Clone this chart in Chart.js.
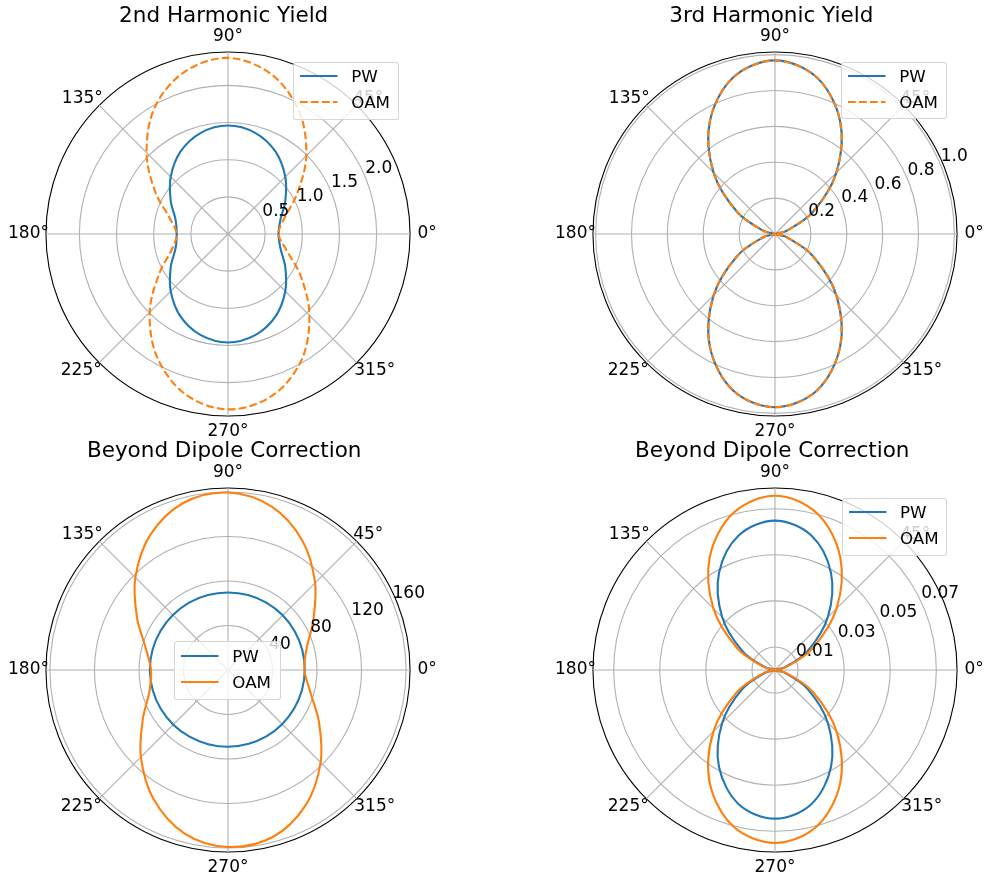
<!DOCTYPE html>
<html>
<head>
<meta charset="utf-8">
<script src="https://cdn.jsdelivr.net/npm/chart.js@4"></script>
<style>
html, body { margin:0; padding:0; background:#fff; }
body { width:986px; height:884px; overflow:hidden; position:relative; font-family:"DejaVu Sans", sans-serif; }
canvas { position:absolute; z-index:1; }
.title { position:absolute; font-size:21.5px; line-height:21.5px; white-space:nowrap; transform:translateX(-50%); color:#000; z-index:3; }
.legend { position:absolute; background:rgba(255,255,255,0.8); border:1px solid rgba(204,204,204,0.8); border-radius:3px; box-sizing:border-box; z-index:4; }
.legend svg { position:absolute; left:6px; }
.legend span { position:absolute; left:57px; font-size:16.7px; line-height:20px; white-space:nowrap; color:#000; }
</style>
</head>
<body>
<script>
// ---------- data ----------
const ANGLES = [0,15,30,45,60,75,90,105,120,135,150,165,180,195,210,225,240,255,270,285,300,315,330,345];
const ANGLE_TICK_LABELS = ['0°','','','45°','','','90°','','','135°','','','180°','','','225°','','','270°','','','315°','',''];
const SERIES_NAMES = ['PW','OAM'];

// 2nd Harmonic Yield
const tlTitle = '2nd Harmonic Yield';
const tlPW  = [0.68,0.73,0.89,1.09,1.28,1.41,1.46,1.41,1.28,1.09,0.89,0.73,0.69,0.73,0.89,1.09,1.28,1.41,1.46,1.41,1.28,1.09,0.89,0.73];
const tlOAM = [0.68,0.78,1.07,1.49,1.91,2.23,2.37,2.26,1.97,1.55,1.13,0.81,0.69,0.78,1.07,1.49,1.91,2.23,2.36,2.26,1.97,1.55,1.13,0.81];
const tlRTicks = [0.5,1.0,1.5,2.0];
const tlRTickLabels = ['0.5','1.0','1.5','2.0'];
const tlRMax = 2.45;

// 3rd Harmonic Yield
const trTitle = '3rd Harmonic Yield';
const trPW  = [0,0.065,0.242,0.484,0.726,0.903,0.968,0.903,0.726,0.484,0.242,0.065,0,0.065,0.242,0.484,0.726,0.903,0.966,0.903,0.726,0.484,0.242,0.065];
const trOAM = [0,0.065,0.242,0.484,0.726,0.903,0.968,0.903,0.726,0.484,0.242,0.065,0,0.065,0.242,0.484,0.726,0.903,0.966,0.903,0.726,0.484,0.242,0.065];
const trRTicks = [0.2,0.4,0.6,0.8,1.0];
const trRTickLabels = ['0.2','0.4','0.6','0.8','1.0'];
const trRMax = 1.015;

// Beyond Dipole Correction (left)
const blTitle = 'Beyond Dipole Correction';
const blPW  = [69.0,69.1,69.3,69.5,69.6,69.7,69.7,69.8,69.9,70.0,70.1,70.2,70.2,70.0,69.8,69.5,69.2,69.0,69.0,68.9,68.9,68.8,68.8,68.9];
const blOAM = [68.7,73.0,88.4,110.7,133.9,151.9,159.5,155.4,140.0,117.7,94.5,76.6,69.2,73.0,88.4,110.7,133.9,151.9,159.0,155.4,140.0,117.7,94.5,76.6];
const blRTicks = [40,80,120,160];
const blRTickLabels = ['40','80','120','160'];
const blRMax = 163.6;

// Beyond Dipole Correction (right)
const brTitle = 'Beyond Dipole Correction';
const brPW  = [0,0.0043,0.0162,0.0324,0.0486,0.0605,0.0648,0.0605,0.0486,0.0324,0.0162,0.0043,0,0.0043,0.0162,0.0324,0.0486,0.0604,0.0645,0.0604,0.0486,0.0324,0.0162,0.0043];
const brOAM = [0,0.0051,0.0189,0.0378,0.0566,0.0704,0.0756,0.0704,0.0566,0.0378,0.0189,0.0051,0,0.0051,0.0189,0.0378,0.0566,0.0702,0.0751,0.0702,0.0566,0.0378,0.0189,0.0051];
const brRTicks = [0.01,0.03,0.05,0.07];
const brRTickLabels = ['0.01','0.03','0.05','0.07'];
const brRMax = 0.079;

// ---------- layout / style ----------
const PANELS = [
  {title: tlTitle, pw: tlPW, oam: tlOAM, ticks: tlRTicks, tickLabels: tlRTickLabels, rmax: tlRMax, dashed: true, rLabelAngle: 22.5,
   cx: 227.7, cy: 234.3, titleX: 223.7, titleBase: 21.7, legend: {x: 293.3, y: 61.7, w: 106, h: 58.3}},
  {title: trTitle, pw: trPW, oam: trOAM, ticks: trRTicks, tickLabels: trRTickLabels, rmax: trRMax, dashed: true, rLabelAngle: 22.5,
   cx: 775.3, cy: 234.3, titleX: 771.3, titleBase: 21.7, legend: {x: 841.3, y: 61.7, w: 105.7, h: 57.6}},
  {title: blTitle, pw: blPW, oam: blOAM, ticks: blRTicks, tickLabels: blRTickLabels, rmax: blRMax, dashed: false, rLabelAngle: 22.5,
   cx: 227.7, cy: 670.3, titleX: 224.2, titleBase: 457.5, legend: {x: 174.3, y: 641.3, w: 106.4, h: 58.4}},
  {title: brTitle, pw: brPW, oam: brOAM, ticks: brRTicks, tickLabels: brRTickLabels, rmax: brRMax, dashed: false, rLabelAngle: 25,
   cx: 775.3, cy: 670.3, titleX: 772.2, titleBase: 457.5, legend: {x: 842, y: 497.5, w: 105, h: 58.5}}
];
const FONT = 'DejaVu Sans';
const PW_COLOR = '#1f77b4', OAM_COLOR = '#ff7f0e';
const DASH = [7.7, 3.3];
const LABEL_PAD = {'0°': 7.5, '45°': -5, '90°': 5.5, '135°': -5, '180°': -3, '225°': -3.5, '270°': 5, '315°': -3.5};

const rTickLabelPlugin = {
  id: 'rTickLabels',
  afterDatasetsDraw(chart, args, opts) {
    const s = chart.scales.r, ctx = chart.ctx;
    const a = opts.angle * Math.PI / 180;
    ctx.save();
    ctx.font = '17px "' + FONT + '"';
    ctx.fillStyle = '#000';
    ctx.textAlign = 'left';
    ctx.textBaseline = 'bottom';
    opts.ticks.forEach((v, i) => {
      const d = s.getDistanceFromCenterForValue(v);
      ctx.fillText(opts.labels[i], s.xCenter + d * Math.cos(a), s.yCenter - d * Math.sin(a));
    });
    ctx.restore();
  }
};

function makePanel(p) {
  const N = ANGLES.length;
  // radar goes clockwise from the start angle; reorder so angles run counter-clockwise from 0°
  const radarOrder = arr => arr.map((_, i) => arr[(N - i) % N]);
  const labels = radarOrder(ANGLE_TICK_LABELS);
  const canvas = document.createElement('canvas');
  canvas.width = 440; canvas.height = 440;
  document.body.appendChild(canvas);
  const chart = new Chart(canvas, {
    type: 'radar',
    data: {
      labels: labels,
      datasets: [
        {label: SERIES_NAMES[0], data: radarOrder(p.pw), borderColor: PW_COLOR, borderWidth: 2.1, fill: false,
         pointRadius: 0, pointHoverRadius: 0, tension: 0.34, order: 1},
        {label: SERIES_NAMES[1], data: radarOrder(p.oam), borderColor: OAM_COLOR, borderWidth: 2.1, fill: false,
         borderDash: p.dashed ? DASH : [], pointRadius: 0, pointHoverRadius: 0, tension: 0.34, order: 0}
      ]
    },
    options: {
      responsive: false,
      animation: false,
      events: [],
      layout: {padding: 0},
      plugins: {
        legend: {display: false}, title: {display: false}, tooltip: {enabled: false},
        rTickLabels: {ticks: p.ticks, labels: p.tickLabels, angle: p.rLabelAngle}
      },
      scales: {
        r: {
          min: 0, max: p.rmax,
          startAngle: 90,
          afterBuildTicks: scale => { scale.ticks = [0].concat(p.ticks, [p.rmax]).map(v => ({value: v})); },
          ticks: {display: false},
          grid: {
            circular: true,
            color: c => (c.tick && Math.abs(c.tick.value - p.rmax) < 1e-12) ? '#000000' : '#b0b0b0',
            lineWidth: 1.1
          },
          angleLines: {
            color: '#b0b0b0',
            lineWidth: c => labels[c.index] ? 1.1 : 0
          },
          pointLabels: {
            color: '#000',
            font: {family: FONT, size: 17},
            padding: c => { const l = labels[c.index]; return l ? LABEL_PAD[l] : 0; }
          }
        }
      }
    },
    plugins: [rTickLabelPlugin]
  });
  const s = chart.scales.r;
  canvas.style.left = (p.cx - s.xCenter) + 'px';
  canvas.style.top = (p.cy - s.yCenter) + 'px';

  // title
  const t = document.createElement('div');
  t.className = 'title';
  t.textContent = p.title;
  t.style.left = p.titleX + 'px';
  t.style.top = (p.titleBase - 18.2) + 'px';
  document.body.appendChild(t);

  // legend
  const L = p.legend;
  const lg = document.createElement('div');
  lg.className = 'legend';
  lg.style.left = L.x + 'px'; lg.style.top = L.y + 'px';
  lg.style.width = L.w + 'px'; lg.style.height = L.h + 'px';
  const rows = [
    {name: SERIES_NAMES[0], color: PW_COLOR, dash: ''},
    {name: SERIES_NAMES[1], color: OAM_COLOR, dash: p.dashed ? DASH.join(' ') : ''}
  ];
  rows.forEach((r, i) => {
    const yc = 13.3 + i * 26;
    const ns = 'http://www.w3.org/2000/svg';
    const svg = document.createElementNS(ns, 'svg');
    svg.setAttribute('width', '38'); svg.setAttribute('height', '6');
    svg.style.top = (yc - 3) + 'px';
    const ln = document.createElementNS(ns, 'line');
    ln.setAttribute('x1', '0'); ln.setAttribute('x2', '37.5');
    ln.setAttribute('y1', '3'); ln.setAttribute('y2', '3');
    ln.setAttribute('stroke', r.color); ln.setAttribute('stroke-width', '2.1');
    if (r.dash) ln.setAttribute('stroke-dasharray', r.dash);
    svg.appendChild(ln);
    lg.appendChild(svg);
    const sp = document.createElement('span');
    sp.textContent = r.name;
    sp.style.top = (yc - 10) + 'px';
    lg.appendChild(sp);
  });
  document.body.appendChild(lg);
}

PANELS.forEach(makePanel);
</script>
</body>
</html>
